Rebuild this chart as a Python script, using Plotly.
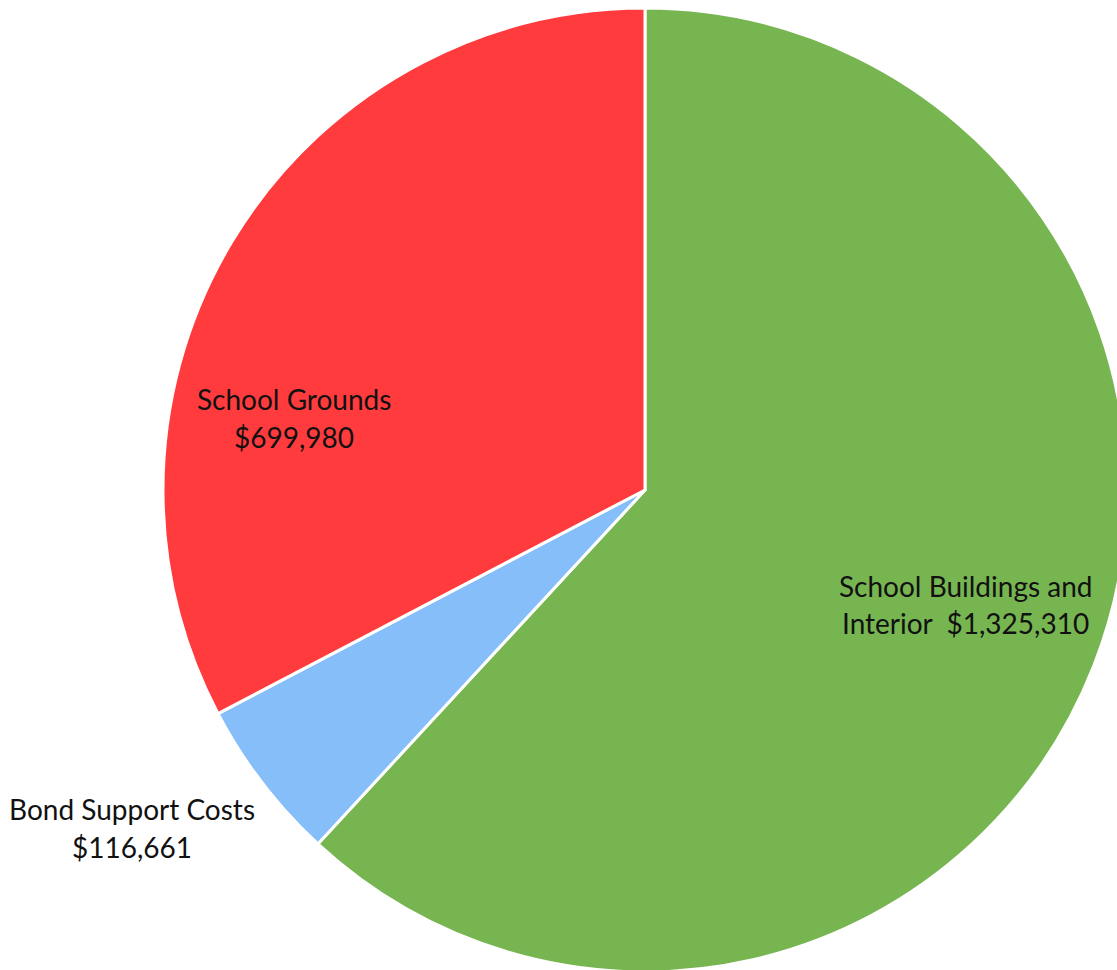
import plotly.graph_objects as go

categories = ["School Buildings and Interior", "Bond Support Costs", "School Grounds"]
values = [1325310, 116661, 699980]
colors = ["#77B551", "#85BEF8", "#FF3B3D"]
label_lines = [
    ("School Buildings and", "Interior  $1,325,310"),
    ("Bond Support Costs", "$116,661"),
    ("School Grounds", "$699,980"),
]

W, H = 1130, 975
cx, cy, r = 645, 490, 482

fig = go.Figure(go.Pie(
    labels=categories,
    values=values,
    sort=False,
    direction="clockwise",
    rotation=0,
    marker=dict(colors=colors, line=dict(color="white", width=3)),
    textinfo="none",
    hoverinfo="label+value",
    showlegend=False,
    domain=dict(x=[(cx - r) / W, (cx + r) / W], y=[(H - cy - r) / H, (H - cy + r) / H]),
))

# label line positions (pixels from top-left): (x center, line1 y, line2 y)
label_pos = [(965, 586, 623), (132, 809, 847), (294, 399, 437)]
for (l1, l2), (px, py1, py2) in zip(label_lines, label_pos):
    for txt, py in ((l1, py1), (l2, py2)):
        fig.add_annotation(
            x=px / W, y=1 - py / H, xref="paper", yref="paper",
            text=txt, showarrow=False, align="center",
            font=dict(family="Lato, Open Sans, sans-serif", size=28, color="#111111"),
            xanchor="center", yanchor="middle",
        )

fig.update_layout(
    width=W, height=H,
    margin=dict(l=0, r=0, t=0, b=0),
    paper_bgcolor="white", plot_bgcolor="white",
)

fig.write_html(
    "out.html",
    config={"displayModeBar": False},
    post_script="document.body.style.margin='0';document.body.style.overflow='hidden';document.documentElement.style.overflow='hidden';",
)
